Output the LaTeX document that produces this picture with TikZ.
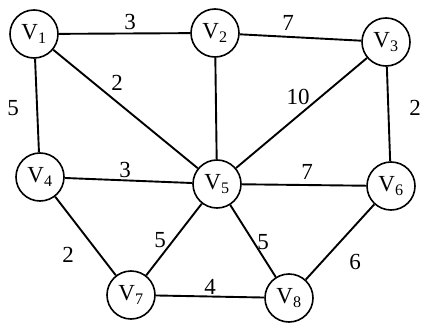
\documentclass[tikz,border=0pt]{standalone}
\usepackage{fontspec}
\setmainfont{Liberation Serif}
\begin{document}
\begin{tikzpicture}[x=1pt,y=-1pt,
  vert/.style={draw,circle,line width=1.6pt,minimum size=48pt,inner sep=0pt,font=\fontsize{23}{23}\selectfont},
  edge/.style={line width=1.9pt},
  wt/.style={font=\fontsize{23}{23}\selectfont,inner sep=0pt}]
\fill[white] (0,0) rectangle (425,326);
\useasboundingbox (0,0) rectangle (425,326);
\node[vert] (v1) at (34,34) {V\textsubscript{1}};
\node[vert] (v2) at (215,33) {V\textsubscript{2}};
\node[vert] (v3) at (386,42) {V\textsubscript{3}};
\node[vert] (v4) at (40,177) {V\textsubscript{4}};
\node[vert] (v5) at (217,184) {V\textsubscript{5}};
\node[vert] (v6) at (391,186) {V\textsubscript{6}};
\node[vert] (v7) at (131,295) {V\textsubscript{7}};
\node[vert] (v8) at (289,298) {V\textsubscript{8}};
\draw[edge] (v1) -- (v2);
\draw[edge] (v2) -- (v3);
\draw[edge] (v1) -- (v5);
\draw[edge] (v2) -- (v5);
\draw[edge] (v3) -- (v5);
\draw[edge] (v1) -- (v4);
\draw[edge] (v3) -- (v6);
\draw[edge] (v4) -- (v5);
\draw[edge] (v5) -- (v6);
\draw[edge] (v4) -- (v7);
\draw[edge] (v5) -- (v7);
\draw[edge] (v5) -- (v8);
\draw[edge] (v6) -- (v8);
\draw[edge] (v7) -- (v8);
\node[wt] (w12) at (130,22) {3};
\node[wt] (w23) at (288,23) {7};
\node[wt] (w15) at (117,83) {2};
\node[wt] (w35) at (298,97) {10};
\node[wt] (w14) at (13,108) {5};
\node[wt] (w36) at (415,108) {2};
\node[wt] (w45) at (125,170) {3};
\node[wt] (w56) at (307,172) {7};
\node[wt] (w47) at (68,255) {2};
\node[wt] (w57) at (160,240) {5};
\node[wt] (w58) at (263,242) {5};
\node[wt] (w68) at (355,262) {6};
\node[wt] (w78) at (210,287) {4};
\end{tikzpicture}
\end{document}
